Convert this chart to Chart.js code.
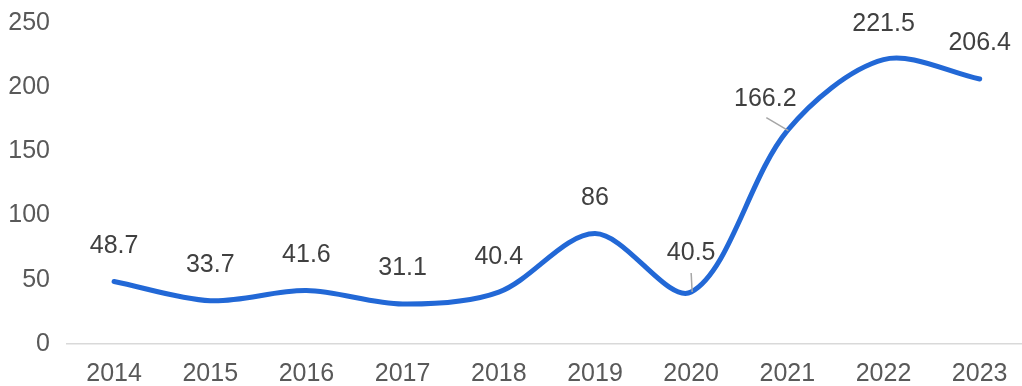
<!DOCTYPE html>
<html>
<head>
<meta charset="utf-8">
<script src="https://cdn.jsdelivr.net/npm/chart.js@4/dist/chart.umd.min.js"></script>
<style>
  html, body { margin: 0; padding: 0; background: #fff; }
  #wrap { width: 1022px; height: 386px; }
</style>
</head>
<body>
<div id="wrap"><canvas id="myChart"></canvas></div>
<script>
const categories = ['2014', '2015', '2016', '2017', '2018', '2019', '2020', '2021', '2022', '2023'];
const values = [48.7, 33.7, 41.6, 31.1, 40.4, 86, 40.5, 166.2, 221.5, 206.4];
const yTicks = [0, 50, 100, 150, 200, 250];

const FONT = "'Liberation Sans', Arial, sans-serif";

// labels that sit away from their point get a thin leader line
const labelMoves = {
  6: { dx: 0, dy: -39 },
  7: { dx: -22, dy: -31 }
};

const valueLabels = {
  id: 'valueLabels',
  afterDatasetsDraw(chart) {
    const ctx = chart.ctx;
    const meta = chart.getDatasetMeta(0);
    ctx.save();
    ctx.font = '25px ' + FONT;
    ctx.textAlign = 'center';
    ctx.textBaseline = 'middle';
    meta.data.forEach(function(pt, i) {
      const mv = labelMoves[i] || { dx: 0, dy: -35.5 };
      const lx = pt.x + mv.dx;
      const ly = pt.y + mv.dy;
      if (labelMoves[i]) {
        ctx.strokeStyle = '#a6a6a6';
        ctx.lineWidth = 1.5;
        ctx.beginPath();
        if (mv.dx === 0) {
          ctx.moveTo(pt.x, ly + 20);
        } else {
          ctx.moveTo(lx + 1, ly + 18);
        }
        ctx.lineTo(pt.x + 1, pt.y);
        ctx.stroke();
      }
      ctx.fillStyle = '#404040';
      ctx.fillText(String(values[i]), lx, ly);
    });
    ctx.restore();
  }
};

const ctx = document.getElementById('myChart').getContext('2d');
const chart = new Chart(ctx, {
  type: 'line',
  data: {
    datasets: [{
      data: categories.map(function(c, i) { return { x: Number(c), y: values[i] }; }),
      borderColor: '#2268d6',
      borderWidth: 5,
      borderCapStyle: 'round',
      borderJoinStyle: 'round',
      tension: 0.32,
      pointRadius: 0,
      fill: false,
      clip: false
    }]
  },
  options: {
    responsive: true,
    maintainAspectRatio: false,
    animation: false,
    layout: { padding: { top: 23, right: 0, left: 0, bottom: 0 } },
    plugins: {
      legend: { display: false },
      tooltip: { enabled: false }
    },
    scales: {
      x: {
        type: 'linear',
        min: 2013.5,
        max: 2023.44,
        grid: { display: false },
        border: { display: false },
        ticks: {
          stepSize: 1,
          includeBounds: false,
          autoSkip: false,
          maxRotation: 0,
          padding: 7,
          color: '#595959',
          font: { family: FONT, size: 25 },
          callback: function(v) { return categories.indexOf(String(v)) >= 0 ? String(v) : ''; }
        },
        afterFit: function(s) {
          s.height = 42;
          s.paddingLeft = 0;
          s.paddingRight = 0;
        }
      },
      y: {
        min: 0,
        max: 250,
        border: { display: false },
        grid: {
          drawTicks: false,
          lineWidth: 1.5,
          color: function(c) { return c.tick && c.tick.value === 0 ? '#d9d9d9' : 'rgba(0,0,0,0)'; }
        },
        afterBuildTicks: function(s) { s.ticks = yTicks.map(function(v) { return { value: v }; }); },
        ticks: {
          padding: 16,
          color: '#595959',
          font: { family: FONT, size: 25 }
        },
        afterFit: function(s) {
          s.width = 66;
          s.paddingTop = 0;
          s.paddingBottom = 0;
        }
      }
    }
  },
  plugins: [valueLabels]
});
</script>
</body>
</html>
